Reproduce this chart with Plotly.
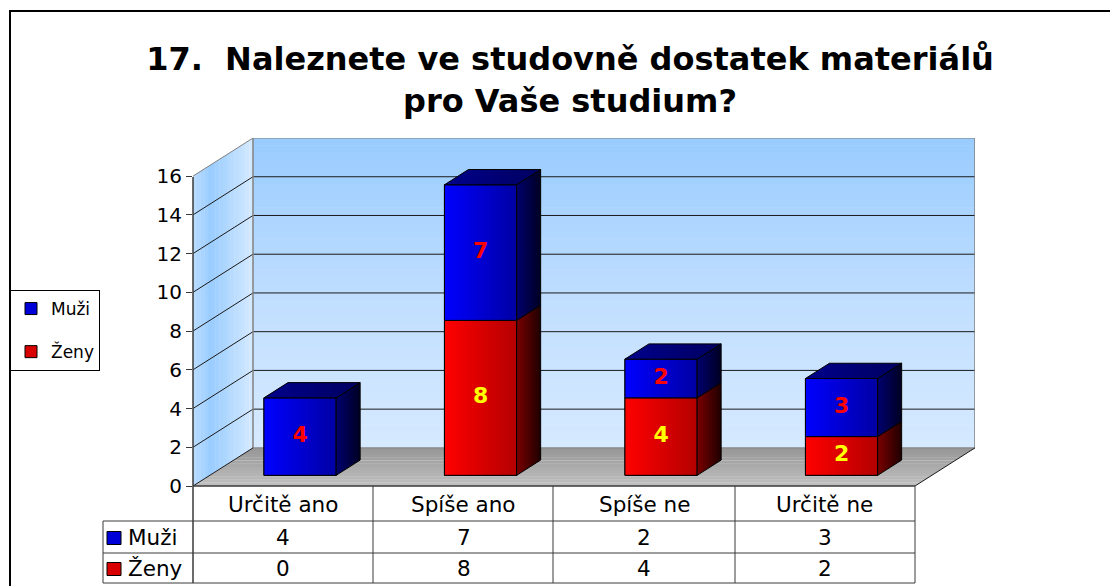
import plotly.graph_objects as go

# ---------------- data ----------------
categories = ["Určitě ano", "Spíše ano", "Spíše ne", "Určitě ne"]
muzi = [4, 7, 2, 3]
zeny = [0, 8, 4, 2]
series_names = ["Muži", "Ženy"]
y_ticks = [0, 2, 4, 6, 8, 10, 12, 14, 16]
title_text = "17.  Naleznete ve studovně dostatek materiálů<br>pro Vaše studium?"

# ---------------- geometry ----------------
OFF = 8                      # page body margin of the html page
W, H = 1118 - OFF, 586 - OFF
ML, MT = 193 - OFF, 138 - OFF
MR, MB = W - (975 - OFF), H - (486 - OFF)
PW, PH = W - ML - MR, H - MT - MB
SX = 180.5            # px per category unit
SY = 19.31            # px per value unit
DX = 60 / SX          # depth offset (x units)
DY = 38 / SY          # depth offset (y units)
YMAX = 16 + DY
XMIN = -0.5
XMAX = XMIN + PW / SX
FRONT = 0.28          # bar front position within depth
DEPTH = 0.40          # bar depth fraction
BW = 0.4
FX, FY = FRONT * DX, FRONT * DY
BX, BY = DEPTH * DX, DEPTH * DY
FONT = "DejaVu Sans, Verdana, sans-serif"


def pxx(px):
    return (px - OFF - ML) / PW


def pxy(py):
    return (H - MB - (py - OFF)) / PH


def hex2rgb(h):
    h = h.lstrip("#")
    return [int(h[i:i + 2], 16) for i in (0, 2, 4)]


def lerp(c1, c2, t):
    a, b = hex2rgb(c1), hex2rgb(c2)
    return "rgb(%d,%d,%d)" % tuple(round(a[k] + (b[k] - a[k]) * t) for k in range(3))


def multi(stops, t):
    for k in range(len(stops) - 1):
        t0, c0 = stops[k]
        t1, c1 = stops[k + 1]
        if t <= t1:
            return lerp(c0, c1, (t - t0) / (t1 - t0) if t1 > t0 else 0)
    return stops[-1][1]


def poly(pts):
    return "M " + " L ".join("%f,%f" % p for p in pts) + " Z"


shapes = []
# back wall gradient bands
N = 40
for k in range(N):
    y0 = DY + 16 * k / N
    y1 = DY + 16 * (k + 1) / N + 0.02
    t = (k + 0.5) / N
    shapes.append(dict(type="rect", xref="x", yref="y", x0=XMIN + DX, x1=3.5 + DX,
                       y0=y0, y1=min(y1, YMAX),
                       fillcolor=multi([(0, "#D6EAFF"), (0.45, "#C2DFFF"), (1, "#99CCFF")], t),
                       line=dict(width=0), layer="below"))
# side wall gradient strips
NS = 16
for k in range(NS):
    xa = XMIN + DX * k / NS
    xb = XMIN + DX * (k + 1) / NS + 0.002
    ya = (xa - XMIN) / DX * DY
    yb = (xb - XMIN) / DX * DY
    c = multi([(0, "#BBDCFF"), (0.3, "#99CCFF"), (1, "#D6EAFF")], (k + 0.5) / NS)
    shapes.append(dict(type="path", xref="x", yref="y",
                       path=poly([(xa, ya), (xb, yb), (xb, 16 + yb), (xa, 16 + ya)]),
                       fillcolor=c, line=dict(width=0), layer="below"))
# floor gradient bands
NF = 12
for k in range(NF):
    ya = DY * k / NF
    yb = DY * (k + 1) / NF + 0.01
    xa = XMIN + ya / DY * DX
    xb = XMIN + yb / DY * DX
    c = multi([(0, "#C0C0C0"), (1, "#969696")], (k + 0.5) / NF)
    shapes.append(dict(type="path", xref="x", yref="y",
                       path=poly([(xa, ya), (xa + 4, ya), (xb + 4, yb), (xb, yb)]),
                       fillcolor=c, line=dict(width=0), layer="below"))
# gridlines
for v in y_ticks[1:]:
    col = "#808080" if v == 16 else "#1a1a1a"
    shapes.append(dict(type="line", xref="x", yref="y", x0=XMIN + DX, x1=3.5 + DX,
                       y0=v + DY, y1=v + DY, line=dict(color=col, width=1), layer="below"))
    shapes.append(dict(type="line", xref="x", yref="y", x0=XMIN, x1=XMIN + DX,
                       y0=v, y1=v + DY, line=dict(color=col, width=1), layer="below"))
# wall / floor edges
shapes += [
    dict(type="line", xref="x", yref="y", x0=XMIN + DX, x1=XMIN + DX, y0=DY, y1=YMAX,
         line=dict(color="#808080", width=1.5), layer="below"),
    dict(type="line", xref="x", yref="y", x0=3.5 + DX, x1=3.5 + DX, y0=DY, y1=YMAX,
         line=dict(color="#808080", width=1.5), layer="below"),
    dict(type="line", xref="x", yref="y", x0=XMIN + DX, x1=3.5 + DX, y0=DY, y1=DY,
         line=dict(color="#808080", width=1), layer="below"),
    dict(type="line", xref="x", yref="y", x0=XMIN, x1=XMIN + DX, y0=0, y1=DY,
         line=dict(color="#1a1a1a", width=1), layer="below"),
    dict(type="line", xref="x", yref="y", x0=3.5, x1=3.5 + DX, y0=0, y1=DY,
         line=dict(color="#1a1a1a", width=1), layer="below"),
]

# ---------------- table (paper coords) ----------------
TBL = "#3a3a3a"
TFS = 21.5
col_edges_px = [193, 373, 553, 735, 915]
row_edges_py = [486, 521, 553, 583]
shapes.append(dict(type="line", xref="paper", yref="paper", x0=pxx(193), x1=pxx(193),
                   y0=pxy(177), y1=pxy(583), line=dict(color=TBL, width=1.5)))
for cx in col_edges_px[1:]:
    shapes.append(dict(type="line", xref="paper", yref="paper", x0=pxx(cx), x1=pxx(cx),
                       y0=pxy(486), y1=pxy(583), line=dict(color=TBL, width=1)))
shapes.append(dict(type="line", xref="paper", yref="paper", x0=pxx(193), x1=pxx(915),
                   y0=pxy(486), y1=pxy(486), line=dict(color=TBL, width=1.5)))
for ry in row_edges_py[1:]:
    shapes.append(dict(type="line", xref="paper", yref="paper", x0=pxx(103), x1=pxx(915),
                       y0=pxy(ry), y1=pxy(ry), line=dict(color=TBL, width=1)))
shapes.append(dict(type="line", xref="paper", yref="paper", x0=pxx(103), x1=pxx(103),
                   y0=pxy(521), y1=pxy(583), line=dict(color=TBL, width=1)))
# frame
shapes.append(dict(type="rect", xref="paper", yref="paper", x0=pxx(10), x1=pxx(1130),
                   y0=pxy(600), y1=pxy(11), line=dict(color="black", width=2)))

BLUE, RED = "#0000D8", "#D80000"
annotations = []
for i, c in enumerate(categories):
    for txt, ry in [(c, 504), (str(muzi[i]), 537), (str(zeny[i]), 568)]:
        annotations.append(dict(x=i, xref="x", y=pxy(ry), yref="paper", text=txt, showarrow=False,
                                yanchor="middle", xanchor="center",
                                font=dict(family=FONT, size=TFS, color="black")))
for name, col, ry in [(series_names[0], BLUE, 538), (series_names[1], RED, 569)]:
    shapes.append(dict(type="rect", xref="paper", yref="paper", x0=pxx(107), x1=pxx(121),
                       y0=pxy(ry + 6.5), y1=pxy(ry - 6.5), fillcolor=col,
                       line=dict(color="black", width=1)))
    annotations.append(dict(x=pxx(126), xref="paper", y=pxy(ry - 1), yref="paper", text=name,
                            showarrow=False, xanchor="left", yanchor="middle",
                            font=dict(family=FONT, size=TFS, color="black")))

# ---------------- traces ----------------
fig = go.Figure()
xs = [i + FX for i in range(len(categories))]
fig.add_trace(go.Bar(
    x=xs, y=zeny, base=[FY] * len(zeny), width=BW, name=series_names[1],
    marker=dict(color=RED, line=dict(color="black", width=1)),
    legendrank=2, legendgroup="z", hoverinfo="skip"))
fig.add_trace(go.Bar(
    x=xs, y=muzi, base=[FY + z for z in zeny], width=BW, name=series_names[0],
    marker=dict(color=BLUE, line=dict(color="black", width=1)),
    legendrank=1, legendgroup="m", hoverinfo="skip"))


def face(pts, c1, c2, gtype="horizontal"):
    xsf = [p[0] for p in pts] + [pts[0][0]]
    ysf = [p[1] for p in pts] + [pts[0][1]]
    fig.add_trace(go.Scatter(x=xsf, y=ysf, mode="lines", fill="toself",
                             line=dict(color="black", width=1),
                             fillgradient=dict(type=gtype, colorscale=[[0, c1], [1, c2]]),
                             showlegend=False, hoverinfo="skip"))


lab_x, lab_y, lab_t, lab_c = [], [], [], []
for i in range(len(categories)):
    x0 = i + FX - BW / 2
    x1 = i + FX + BW / 2
    segs = []
    if zeny[i]:
        segs.append((FY, FY + zeny[i], ("#FF0000", "#B40000"), ("#7A0000", "#1E0000"), "#FFFF00", zeny[i]))
    if muzi[i]:
        segs.append((FY + zeny[i], FY + zeny[i] + muzi[i], ("#0000FF", "#0000A4"),
                     ("#00006E", "#000022"), "#FF0000", muzi[i]))
    for b, t, front, side, tc, v in segs:
        face([(x0, b), (x1, b), (x1, t), (x0, t)], front[0], front[1])
        face([(x1, b), (x1 + BX, b + BY), (x1 + BX, t + BY), (x1, t)], side[0], side[1])
        lab_x.append(i + FX)
        lab_y.append((b + t) / 2)
        lab_t.append(str(v))
        lab_c.append(tc)
    T = FY + zeny[i] + muzi[i]
    face([(x0, T), (x1, T), (x1 + BX, T + BY), (x0 + BX, T + BY)], "#00008C", "#000060")

fig.add_trace(go.Scatter(x=lab_x, y=lab_y, text=lab_t, mode="text", showlegend=False,
                         hoverinfo="skip", cliponaxis=False,
                         textfont=dict(family=FONT, size=22, color=lab_c, weight="bold")))

fig.update_layout(
    width=W, height=H,
    margin=dict(l=ML, r=MR, t=MT, b=MB),
    paper_bgcolor="white", plot_bgcolor="white",
    barmode="overlay",
    showlegend=True,
    font=dict(family=FONT, color="black"),
    title=dict(text=title_text, x=(570 - OFF) / W, xanchor="center", y=1 - (70 - OFF) / H,
               yanchor="middle", yref="container",
               font=dict(family=FONT, size=32, color="black", weight="bold")),
    legend=dict(xref="container", yref="container", x=(10 - OFF) / W, y=1 - (290 - OFF) / H,
                xanchor="left", yanchor="top", bordercolor="black", borderwidth=1,
                bgcolor="white", font=dict(family=FONT, size=17, color="black"),
                tracegroupgap=18, traceorder="grouped", itemwidth=30),
    xaxis=dict(range=[XMIN, XMAX], visible=False, fixedrange=True),
    yaxis=dict(range=[0, YMAX], tickvals=y_ticks, showgrid=False, zeroline=False,
               showline=False, ticks="outside", ticklen=6, tickcolor="#3a3a3a",
               tickfont=dict(family=FONT, size=20, color="black"), fixedrange=True),
    shapes=shapes, annotations=annotations,
)

fig.write_html("out.html")
